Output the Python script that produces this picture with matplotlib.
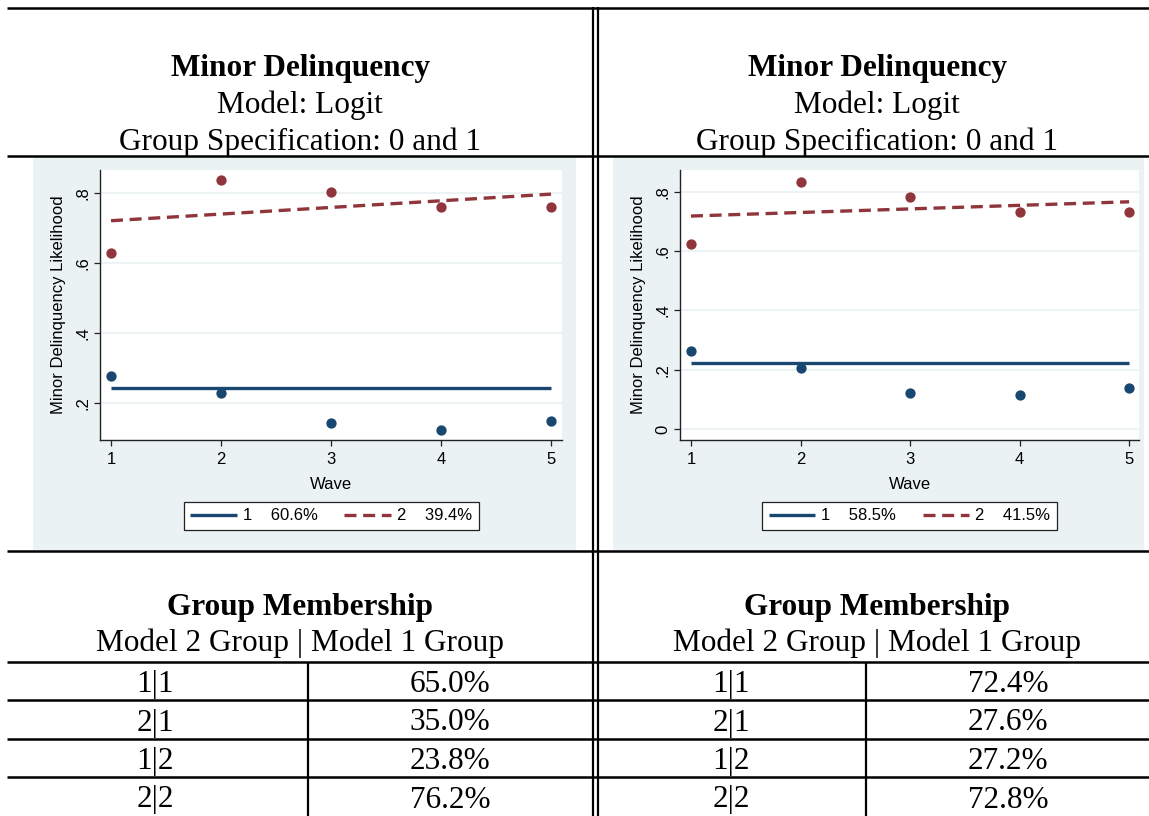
import numpy as np
import matplotlib
matplotlib.use("Agg")
import matplotlib.pyplot as plt
from matplotlib.lines import Line2D
from matplotlib.patches import Rectangle
from matplotlib.ticker import FuncFormatter

W, H = 1149, 816

waves = [1, 2, 3, 4, 5]

# left panel (0 and 1 spec, first model)
left_g1_obs = [0.275, 0.228, 0.141, 0.123, 0.146]
left_g1_fit = [0.241, 0.241, 0.241, 0.241, 0.241]
left_g2_obs = [0.628, 0.835, 0.801, 0.759, 0.759]
left_g2_fit = [0.720, 0.739, 0.758, 0.777, 0.796]
left_shares = ["60.6%", "39.4%"]
left_yticks = [0.2, 0.4, 0.6, 0.8]

# right panel
right_g1_obs = [0.264, 0.207, 0.123, 0.114, 0.140]
right_g1_fit = [0.224, 0.224, 0.224, 0.224, 0.224]
right_g2_obs = [0.625, 0.831, 0.783, 0.730, 0.732]
right_g2_fit = [0.718, 0.730, 0.742, 0.754, 0.766]
right_shares = ["58.5%", "41.5%"]
right_yticks = [0, 0.2, 0.4, 0.6, 0.8]

title_lines = ["Minor Delinquency", "Model: Logit", "Group Specification: 0 and 1"]
member_title = ["Group Membership", "Model 2 Group | Model 1 Group"]
member_rows = ["1|1", "2|1", "1|2", "2|2"]
left_member = ["65.0%", "35.0%", "23.8%", "76.2%"]
right_member = ["72.4%", "27.6%", "27.2%", "72.8%"]

BLUE, RED = "#1a476f", "#90353b"
BG = "#eaf2f3"
SERIF = ["Liberation Serif", "DejaVu Serif"]
SANS = ["Liberation Sans", "DejaVu Sans"]
FS = 12

plt.rcParams.update({"font.family": SANS, "font.size": FS})
fig = plt.figure(figsize=(W / 100, H / 100), dpi=100)


def fx(x):
    return x / W


def fy(y):
    return 1 - y / H


def rule(x0, y0, x1, y1, lw=1.8):
    fig.add_artist(Line2D([fx(x0), fx(x1)], [fy(y0), fy(y1)], color="black",
                          lw=lw, transform=fig.transFigure, solid_capstyle="butt"))


def ytick_fmt(v, _):
    if abs(v) < 1e-9:
        return "0"
    return ("%.1f" % v).lstrip("0")


def panel(bg_box, ax_box, xlim, ylim, yticks, g1_obs, g1_fit, g2_obs, g2_fit, shares):
    bx0, by0, bx1, by1 = bg_box
    fig.add_artist(Rectangle((fx(bx0), fy(by1)), (bx1 - bx0) / W, (by1 - by0) / H,
                             facecolor=BG, edgecolor="none",
                             transform=fig.transFigure, zorder=0))
    x0, y0, x1, y1 = ax_box
    ax = fig.add_axes([fx(x0), fy(y1), (x1 - x0) / W, (y1 - y0) / H])
    ax.set_facecolor("white")
    ax.scatter(waves, g1_obs, s=55, color=BLUE, zorder=3, linewidths=0)
    ax.scatter(waves, g2_obs, s=55, color=RED, zorder=3, linewidths=0)
    l1, = ax.plot(waves, g1_fit, color=BLUE, lw=2.4, zorder=2,
                  solid_capstyle="butt")
    l2, = ax.plot(waves, g2_fit, color=RED, lw=2.4, zorder=2,
                  dashes=(3.6, 2.0), dash_capstyle="butt")
    ax.set_xlim(*xlim)
    ax.set_ylim(*ylim)
    ax.set_xticks(waves)
    ax.set_yticks(yticks)
    ax.yaxis.set_major_formatter(FuncFormatter(ytick_fmt))
    ax.grid(axis="y", color=BG, lw=1.3, zorder=0)
    ax.set_axisbelow(True)
    for s in ("top", "right"):
        ax.spines[s].set_visible(False)
    for s in ("left", "bottom"):
        ax.spines[s].set_linewidth(1.0)
        ax.spines[s].set_color("#222222")
    ax.tick_params(direction="out", length=4.5, width=0.9, color="#222222",
                   labelsize=FS)
    ax.tick_params(axis="x", pad=4)
    ax.tick_params(axis="y", pad=2.5)
    for lab in ax.get_yticklabels():
        lab.set_rotation(90)
        lab.set_va("center")
        lab.set_ha("right")
    ax.set_xlabel("Wave", fontsize=FS, labelpad=7)
    ax.set_ylabel("Minor Delinquency Likelihood", fontsize=FS, labelpad=7)
    cx = (x0 + x1) / 2
    leg = ax.legend([l1, l2], ["1    " + shares[0], "2    " + shares[1]],
                    ncol=2, loc="center", bbox_to_anchor=(fx(cx), fy(516)),
                    bbox_transform=fig.transFigure, fontsize=FS,
                    handlelength=2.8, handletextpad=0.35, columnspacing=1.6,
                    borderpad=0.4, fancybox=False, framealpha=1,
                    edgecolor="#222222")
    leg.get_frame().set_linewidth(0.9)
    return ax


panel((33, 157, 576, 550), (100, 170, 562, 440), (0.9, 5.1), (0.093, 0.865),
      left_yticks, left_g1_obs, left_g1_fit, left_g2_obs, left_g2_fit, left_shares)
panel((613, 157, 1144, 550), (680, 170, 1139, 440), (0.9, 5.09), (-0.036, 0.873),
      right_yticks, right_g1_obs, right_g1_fit, right_g2_obs, right_g2_fit, right_shares)

# titles
for cx in (300, 877):
    for i, (txt, base) in enumerate(zip(title_lines, (76, 113, 150))):
        fig.text(fx(cx), fy(base), txt, ha="center", va="baseline",
                 fontsize=22.5, family=SERIF,
                 fontweight="bold" if i == 0 else "normal")
    for i, (txt, base) in enumerate(zip(member_title, (615, 651))):
        fig.text(fx(cx), fy(base), txt, ha="center", va="baseline",
                 fontsize=22.5, family=SERIF,
                 fontweight="bold" if i == 0 else "normal")

# table body
row_lines = [662, 700, 739, 777]
row_mid = [681, 719.5, 758, 796.5]
for cx_lab, cx_val, vals in ((155, 450, left_member), (731, 1008, right_member)):
    for lab, v, ym in zip(member_rows, vals, row_mid):
        fig.text(fx(cx_lab), fy(ym), lab, ha="center", va="center_baseline",
                 fontsize=22.5, family=SERIF)
        fig.text(fx(cx_val), fy(ym), v, ha="center", va="center_baseline",
                 fontsize=22.5, family=SERIF)

# rules
for y in [8, 155.5, 551] + row_lines:
    rule(7, y, W, y)
rule(593, 7, 593, H, lw=1.6)
rule(598, 7, 598, H, lw=1.6)
rule(308, 662, 308, H, lw=1.6)
rule(866, 662, 866, H, lw=1.6)

fig.savefig("out.png", dpi=100)
